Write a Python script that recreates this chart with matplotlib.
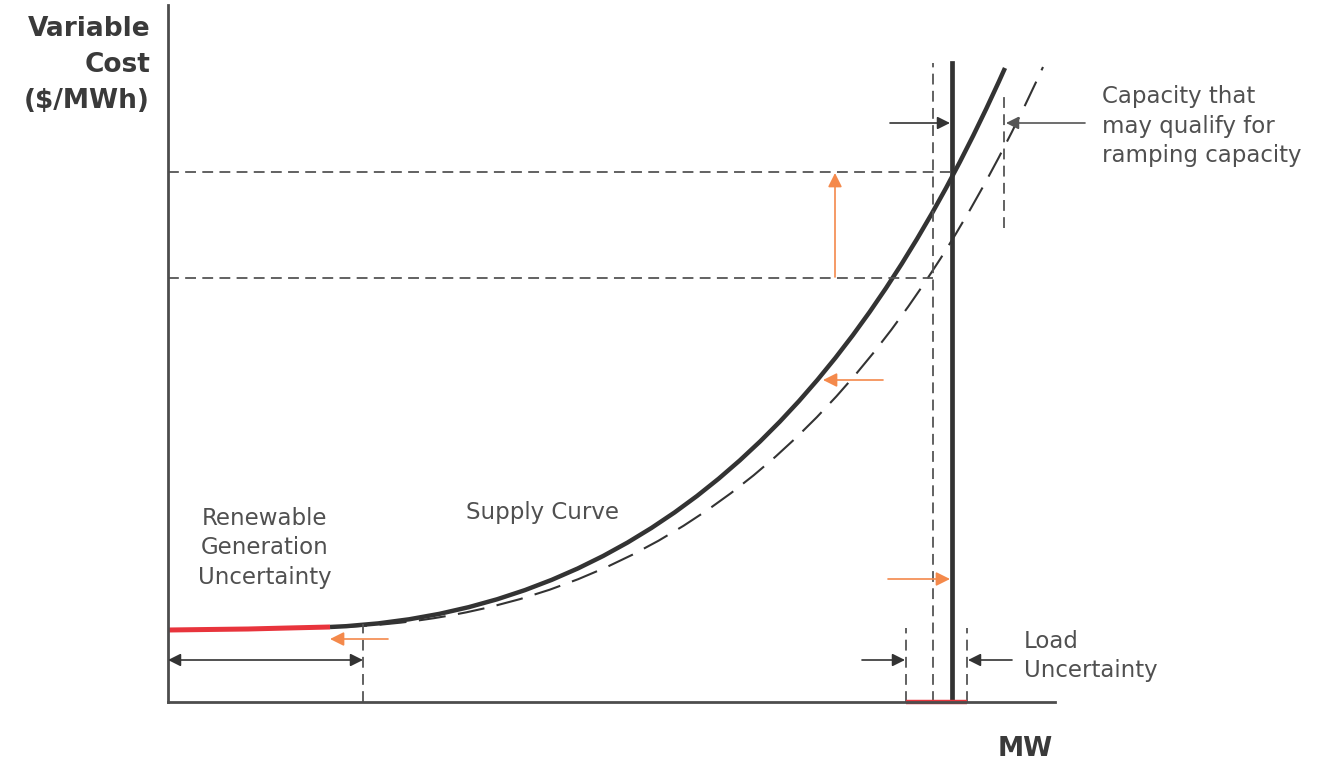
import matplotlib.pyplot as plt
from matplotlib.path import Path
from matplotlib.patches import PathPatch

# 坐标单位:以原点(纵轴与横轴交点)为 0 的示意刻度
W, H = 887, 697

# 供给曲线前段:可再生能源不确定区(红色)
supply_red_x = [0, 40, 80, 120, 162]
supply_red_y = [72, 72.5, 73, 74, 75]
# 供给曲线(实线)的贝塞尔控制点
supply_ctrl_x = [162, 512, 707, 837]
supply_ctrl_y = [75, 90, 343, 634]
# 不确定性下移后的供给曲线(虚线)的贝塞尔控制点
shifted_ctrl_x = [172, 552, 747, 875]
shifted_ctrl_y = [75, 88, 355, 635]

# 负荷线与参考线
load_x = 784          # 实际负荷(粗实线)
load_dash_x = 765     # 负荷预测(虚线)
load_low, load_high = 738, 799
renew_x = 195
price_hi, price_lo = 530, 424
ramp_x = 836

C_DARK = "#333333"
C_GRAY = "#555555"
C_ORANGE = "#f4894b"
C_RED = "#e8343c"
FONT = ["DejaVu Sans"]

fig = plt.figure(figsize=(13.19, 7.61), dpi=100)
ax = fig.add_axes([168 / 1319, 59 / 761, W / 1319, H / 761])
ax.set_xlim(0, W)
ax.set_ylim(0, H)
ax.set_xticks([])
ax.set_yticks([])
for s in ["top", "right"]:
    ax.spines[s].set_visible(False)
for s in ["left", "bottom"]:
    ax.spines[s].set_color("#4d4d4d")
    ax.spines[s].set_linewidth(2)
ax.patch.set_alpha(0)

dash_v = dict(color=C_GRAY, lw=1.3, ls=(0, (6, 3.5)))


def bezier(xs, ys, **kw):
    codes = [Path.MOVETO, Path.CURVE4, Path.CURVE4, Path.CURVE4]
    ax.add_patch(PathPatch(Path(list(zip(xs, ys)), codes), fill=False, **kw))


# 曲线
bezier(shifted_ctrl_x, shifted_ctrl_y, edgecolor=C_DARK, lw=1.5, ls=(0, (13, 6)))
bezier(supply_ctrl_x, supply_ctrl_y, edgecolor=C_DARK, lw=3.2, capstyle="butt")
ax.plot(supply_red_x, supply_red_y, color=C_RED, lw=3.6, solid_capstyle="butt")

# 负荷线
ax.plot([load_x, load_x], [0, 639], color=C_DARK, lw=3.4)
ax.plot([load_dash_x, load_dash_x], [0, 639], **dash_v)
ax.plot([load_low, load_low], [0, 74], **dash_v)
ax.plot([load_high, load_high], [0, 74], **dash_v)
ax.plot([load_low, load_high], [0, 0], color=C_RED, lw=3.2, solid_capstyle="butt", clip_on=False)

# 价格水平线
ax.plot([0, load_x], [price_hi, price_hi], **dash_v)
ax.plot([0, load_dash_x], [price_lo, price_lo], **dash_v)

# 爬坡容量区间
ax.plot([ramp_x, ramp_x], [474, 607], **dash_v)

# 可再生能源不确定区
ax.plot([renew_x, renew_x], [0, 78], **dash_v)


def arrow(x0, y0, x1, y1, color, both=False, lw=1.2, ms=19):
    style = "<|-|>" if both else "-|>"
    ax.annotate("", xy=(x1, y1), xytext=(x0, y0),
                arrowprops=dict(arrowstyle=style, color=color, lw=lw,
                                mutation_scale=ms, shrinkA=0, shrinkB=0))


arrow(0, 42, renew_x, 42, C_DARK, both=True)
arrow(220, 63, 162, 63, C_ORANGE, ms=21)
arrow(715, 322, 655, 322, C_ORANGE, ms=21)
arrow(667, 425, 667, 529, C_ORANGE, ms=21)
arrow(720, 123, 782, 123, C_ORANGE, ms=21)
arrow(722, 579, 782, 579, C_DARK)
arrow(917, 579, 838, 579, C_GRAY)
arrow(694, 42, 737, 42, C_DARK)
arrow(844, 42, 800, 42, C_DARK)

# 文字
txt = dict(color="#505050", fontsize=16.5, family=FONT, linespacing=1.35)
ax.text(96.5, 154, "Renewable\nGeneration\nUncertainty", ha="center", va="center",
        multialignment="center", **txt)
ax.text(298, 190, "Supply Curve", ha="left", va="center", **txt)
ax.text(934, 576, "Capacity that\nmay qualify for\nramping capacity", ha="left",
        va="center", **txt)
ax.text(856, 46, "Load\nUncertainty", ha="left", va="center", **txt)

fig.text(150 / 1319, 1 - 65 / 761, "Variable\nCost\n($/MWh)", ha="right", va="center",
         fontsize=19, fontweight="bold", color="#3a3a3a", family="DejaVu Sans",
         linespacing=1.52)
fig.text(1025 / 1319, 1 - 749 / 761, "MW", ha="center", va="center",
         fontsize=19, fontweight="bold", color="#3a3a3a", family="DejaVu Sans")

fig.savefig("out.png", dpi=100, facecolor="white")
